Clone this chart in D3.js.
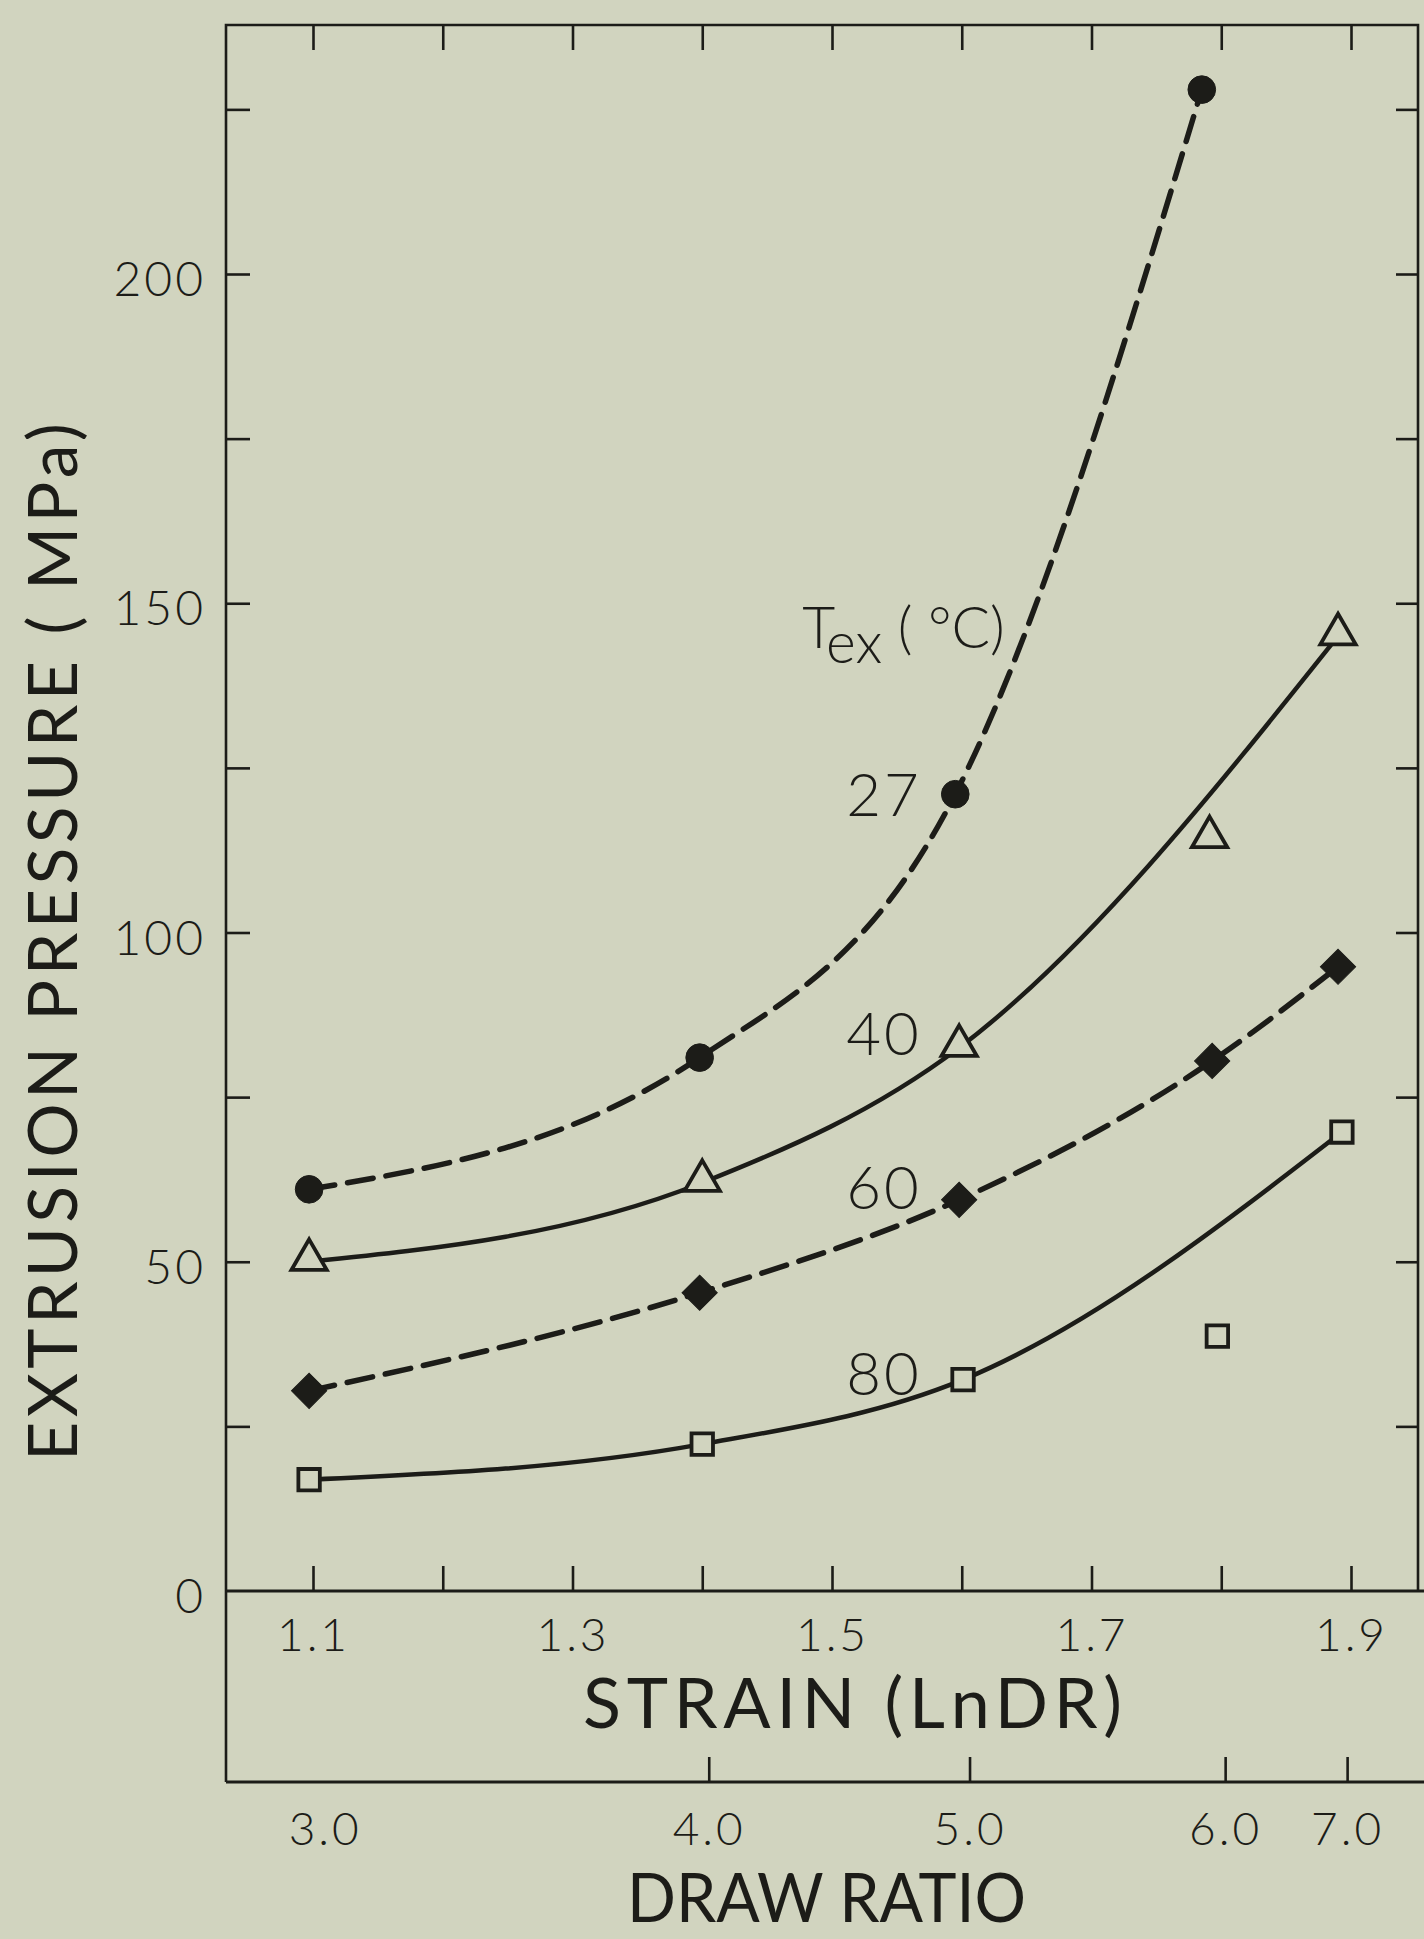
<!DOCTYPE html>
<html>
<head>
<meta charset="utf-8">
<script src="https://cdn.jsdelivr.net/npm/d3@7"></script>
<style>
  html, body { margin: 0; padding: 0; background: #d1d4bf; }
  svg { display: block; }
  .tick text { fill: #1c1c18; }
</style>
</head>
<body>
<div class="chart"></div>
<script>
// strain (ln DR) axis
const strainTicks = [1.1, 1.2, 1.3, 1.4, 1.5, 1.6, 1.7, 1.8, 1.9]
const strainLabels = [1.1, 1.3, 1.5, 1.7, 1.9]
// pressure axis (MPa)
const pressureTicks = [25, 50, 75, 100, 125, 150, 175, 200, 225]
const pressureLabels = [0, 50, 100, 150, 200]
// draw ratio axis, positions in strain units
const drawRatioLabels = ["3.0", "4.0", "5.0", "6.0", "7.0"]
const drawRatioAt = [1.109, 1.405, 1.606, 1.803, 1.897]
const drawRatioTicked = [1.405, 1.606, 1.803, 1.897]

// extrusion temperatures
const temps = ["27", "40", "60", "80"]

const strain27 = [1.097, 1.398, 1.595, 1.785]
const pressure27 = [61, 81, 121, 228]
const onCurve27 = [true, true, true, true]

const strain40 = [1.097, 1.40, 1.598, 1.791, 1.89]
const pressure40 = [50, 62, 82.5, 114.2, 145]
const onCurve40 = [true, true, true, false, true]

const strain60 = [1.097, 1.398, 1.598, 1.793, 1.89]
const pressure60 = [30.4, 45.3, 59.4, 80.5, 94.8]
const onCurve60 = [true, true, true, true, true]

const strain80 = [1.097, 1.40, 1.601, 1.797, 1.893]
const pressure80 = [16.9, 22.3, 32.1, 38.7, 69.7]
const onCurve80 = [true, true, true, false, true]

// where the temperature numbers sit (strain, pressure at baseline)
const labelStrain = [1.511, 1.511, 1.511, 1.511]
const labelPressure = [117.7, 81.4, 58, 29.8]

const W = 1424, H = 1939
const ink = "#1c1c18", paper = "#d1d4bf"
const frame = { left: 226, right: 1418, top: 25, drAxis: 1782 }
const font = "Lato, 'Open Sans', sans-serif"

const x = d3.scaleLinear().domain([1.1, 1.9]).range([313, 1351])
const y = d3.scaleLinear().domain([0, 200]).range([1591, 274])

const svg = d3.select(".chart").append("svg")
    .attr("width", W)
    .attr("height", H)
    .style("background", paper)

// frame lines
const framePath = d3.path()
framePath.moveTo(frame.left, frame.drAxis)
framePath.lineTo(frame.left, frame.top)
framePath.lineTo(frame.right, frame.top)
framePath.lineTo(frame.right, y(0))
svg.append("path")
    .attr("d", framePath.toString())
    .attr("fill", "none")
    .attr("stroke", ink)
    .attr("stroke-width", 2.6)

svg.selectAll("line.base")
    .data([y(0), frame.drAxis])
    .enter().append("line")
    .attr("class", "base")
    .attr("x1", frame.left)
    .attr("x2", W)
    .attr("y1", d => d)
    .attr("y2", d => d)
    .attr("stroke", ink)
    .attr("stroke-width", 3)

function tickOnly(g) {
    g.select(".domain").remove()
    g.selectAll(".tick line").attr("stroke", ink).attr("stroke-width", 2.6)
}
function labelOnly(g, size) {
    g.select(".domain").remove()
    g.selectAll(".tick line").remove()
    g.selectAll(".tick text")
        .attr("font-family", font)
        .attr("font-weight", 300)
        .attr("font-size", size)
        .attr("letter-spacing", 3)
        .attr("fill", ink)
}

// inward ticks
svg.append("g")
    .attr("transform", `translate(0,${y(0)})`)
    .call(d3.axisTop(x).tickValues(strainTicks).tickSize(25).tickSizeOuter(0).tickFormat(""))
    .call(tickOnly)
svg.append("g")
    .attr("transform", `translate(0,${frame.top})`)
    .call(d3.axisBottom(x).tickValues(strainTicks).tickSize(25).tickSizeOuter(0).tickFormat(""))
    .call(tickOnly)
svg.append("g")
    .attr("transform", `translate(${frame.left},0)`)
    .call(d3.axisRight(y).tickValues(pressureTicks).tickSize(24).tickSizeOuter(0).tickFormat(""))
    .call(tickOnly)
svg.append("g")
    .attr("transform", `translate(${frame.right},0)`)
    .call(d3.axisLeft(y).tickValues(pressureTicks).tickSize(22).tickSizeOuter(0).tickFormat(""))
    .call(tickOnly)
svg.append("g")
    .attr("transform", `translate(0,${frame.drAxis})`)
    .call(d3.axisTop(x).tickValues(drawRatioTicked).tickSize(25).tickSizeOuter(0).tickFormat(""))
    .call(tickOnly)

// tick labels
svg.append("g")
    .attr("transform", `translate(0,${y(0)})`)
    .call(d3.axisBottom(x).tickValues(strainLabels).tickSize(0).tickPadding(27).tickFormat(d3.format(".1f")))
    .call(g => labelOnly(g, 46))
svg.append("g")
    .attr("transform", `translate(${frame.left - 20},0)`)
    .call(d3.axisLeft(y).tickValues(pressureLabels).tickSize(0).tickPadding(0))
    .call(g => labelOnly(g, 48))
    .call(g => g.selectAll(".tick text").attr("dy", "0.45em"))
svg.append("g")
    .attr("transform", `translate(0,${frame.drAxis})`)
    .call(d3.axisBottom(x).tickValues(drawRatioAt).tickSize(0).tickPadding(30)
        .tickFormat((d, i) => drawRatioLabels[i]))
    .call(g => labelOnly(g, 46))

// axis titles
svg.append("text")
    .text("STRAIN (LnDR)")
    .attr("x", 583).attr("y", 1728)
    .attr("textLength", 539).attr("lengthAdjust", "spacing")
    .attr("font-family", font).attr("font-size", 70)
    .attr("fill", ink)
svg.append("text")
    .text("DRAW RATIO")
    .attr("x", 627).attr("y", 1922)
    .attr("textLength", 399).attr("lengthAdjust", "spacingAndGlyphs")
    .attr("font-family", font).attr("font-size", 68)
    .attr("fill", ink)
svg.append("text")
    .text("EXTRUSION PRESSURE ( MPa)")
    .attr("transform", "translate(77,1461) rotate(-90)")
    .attr("textLength", 1038).attr("lengthAdjust", "spacing")
    .attr("font-family", font).attr("font-size", 68)
    .attr("fill", ink)

// series
const series = [
    { strain: strain27, pressure: pressure27, onCurve: onCurve27, dashed: true, marker: "circle" },
    { strain: strain40, pressure: pressure40, onCurve: onCurve40, dashed: false, marker: "triangle" },
    { strain: strain60, pressure: pressure60, onCurve: onCurve60, dashed: true, marker: "diamond" },
    { strain: strain80, pressure: pressure80, onCurve: onCurve80, dashed: false, marker: "square" }
]

const line = d3.line()
    .x(d => x(d[0]))
    .y(d => y(d[1]))
    .curve(d3.curveMonotoneX)

series.forEach(s => {
    const pts = s.strain.map((v, i) => [v, s.pressure[i]]).filter((p, i) => s.onCurve[i])
    svg.append("path")
        .attr("d", line(pts))
        .attr("fill", "none")
        .attr("stroke", ink)
        .attr("stroke-width", s.dashed ? 5.5 : 4.5)
        .attr("stroke-dasharray", s.dashed ? "26 13" : null)
        .attr("stroke-linecap", s.dashed ? "round" : "butt")
})

const markerShape = {
    circle: d3.symbol(d3.symbolCircle, 600),
    triangle: d3.symbol(d3.symbolTriangle, 540),
    diamond: d3.symbol(d3.symbolSquare, 620),
    square: d3.symbol(d3.symbolSquare, 460)
}

series.forEach(s => {
    const filled = s.marker === "circle" || s.marker === "diamond"
    svg.append("g").selectAll("path")
        .data(s.strain.map((v, i) => [v, s.pressure[i]]))
        .enter().append("path")
        .attr("d", markerShape[s.marker])
        .attr("transform", d => {
            let t = `translate(${x(d[0])},${y(d[1])})`
            if (s.marker === "diamond") t += " rotate(45)"
            if (s.marker === "triangle") t += " translate(0,-2)"
            return t
        })
        .attr("fill", filled ? ink : paper)
        .attr("stroke", ink)
        .attr("stroke-width", filled ? 1 : 3.8)
})

// temperature labels
svg.selectAll("text.temp")
    .data(temps)
    .enter().append("text")
    .attr("class", "temp")
    .text(d => d)
    .attr("x", (d, i) => x(labelStrain[i]))
    .attr("y", (d, i) => y(labelPressure[i]))
    .attr("font-family", font)
    .attr("font-weight", 300)
    .attr("font-size", 60)
    .attr("letter-spacing", 3)
    .attr("fill", ink)

const tex = svg.append("text")
    .attr("x", x(1.477))
    .attr("y", y(143.2))
    .attr("font-family", font)
    .attr("font-weight", 300)
    .attr("font-size", 57)
    .attr("fill", ink)
tex.append("tspan").text("T")
tex.append("tspan").text("ex").attr("dy", 15).attr("dx", -2)
tex.append("tspan").text(" ( °C)").attr("dy", -15)
</script>
</body>
</html>
